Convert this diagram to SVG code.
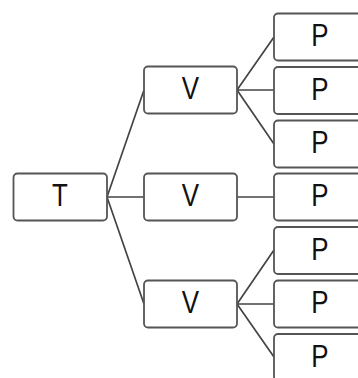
<svg xmlns="http://www.w3.org/2000/svg" width="358" height="378" viewBox="0 0 358 378">
<style>
.box{fill:#fff;stroke:#555;stroke-width:1.8}
.lbl{font-family:"Liberation Sans",Arial,sans-serif;font-size:32px;fill:#111;text-anchor:middle}
.edge{stroke:#444;stroke-width:1.7;fill:none}
</style>
<rect width="358" height="378" fill="#fff"/>
<g id="connectors">
<path class="edge" d="M107 197 L144 90 M107 197 L144 197 M107 197 L144 304"/>
<path class="edge" d="M237 90 L274 37 M237 90 L274 90 M237 90 L274 144"/>
<path class="edge" d="M237 197 L274 197"/>
<path class="edge" d="M237 304 L274 250 M237 304 L274 304 M237 304 L274 357"/>
</g>
<g id="T"><rect class="box" x="13.5" y="173.5" width="93.5" height="47" rx="4"/><text class="lbl" transform="translate(60,206) scale(0.81,1)">T</text></g>
<g id="V1"><rect class="box" x="144" y="66.5" width="93" height="47" rx="4"/><text class="lbl" transform="translate(190.5,99) scale(0.81,1)">V</text></g>
<g id="V2"><rect class="box" x="144" y="173.5" width="93" height="47" rx="4"/><text class="lbl" transform="translate(190.5,206) scale(0.81,1)">V</text></g>
<g id="V3"><rect class="box" x="144" y="280.5" width="93" height="47" rx="4"/><text class="lbl" transform="translate(190.5,313) scale(0.81,1)">V</text></g>
<g id="P1"><rect class="box" x="274" y="13.5" width="93" height="47" rx="4"/><text class="lbl" transform="translate(320,46) scale(0.81,1)">P</text></g>
<g id="P2"><rect class="box" x="274" y="67" width="93" height="47" rx="4"/><text class="lbl" transform="translate(320,99.5) scale(0.81,1)">P</text></g>
<g id="P3"><rect class="box" x="274" y="120.5" width="93" height="47" rx="4"/><text class="lbl" transform="translate(320,153) scale(0.81,1)">P</text></g>
<g id="P4"><rect class="box" x="274" y="173.5" width="93" height="47" rx="4"/><text class="lbl" transform="translate(320,206) scale(0.81,1)">P</text></g>
<g id="P5"><rect class="box" x="274" y="227" width="93" height="47" rx="4"/><text class="lbl" transform="translate(320,259.5) scale(0.81,1)">P</text></g>
<g id="P6"><rect class="box" x="274" y="280.5" width="93" height="47" rx="4"/><text class="lbl" transform="translate(320,313) scale(0.81,1)">P</text></g>
<g id="P7"><rect class="box" x="274" y="334" width="93" height="47" rx="4"/><text class="lbl" transform="translate(320,366.5) scale(0.81,1)">P</text></g>
</svg>
